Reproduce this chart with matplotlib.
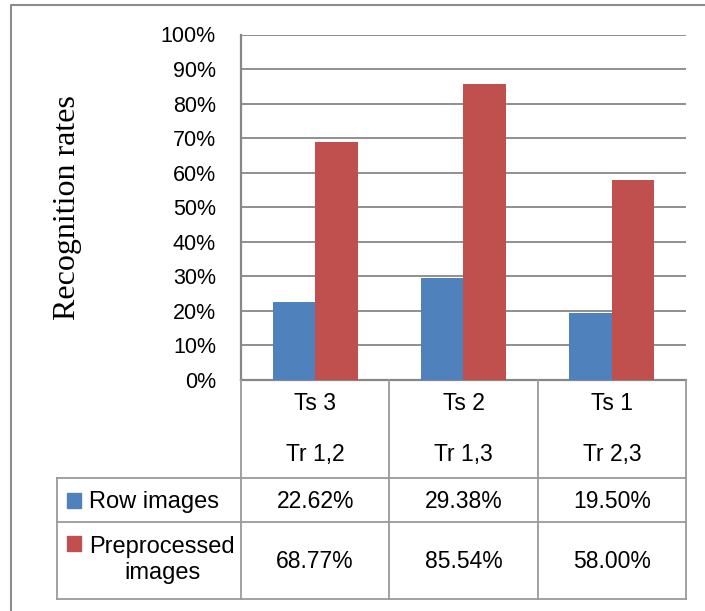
import matplotlib
import matplotlib.pyplot as plt
from matplotlib.lines import Line2D
from matplotlib.patches import Rectangle
import matplotlib.transforms as mtransforms

matplotlib.use('Agg')

# data
test_sets = ["Ts 3", "Ts 2", "Ts 1"]
train_sets = ["Tr 1,2", "Tr 1,3", "Tr 2,3"]
row_images = [22.62, 29.38, 19.50]
preprocessed = [68.77, 85.54, 58.00]
series_names = ["Row images", "Preprocessed\nimages"]
yticks = list(range(0, 101, 10))

blue = "#4F81BD"
red = "#C0504D"
grid_c = "#878787"
line_c = "#9A9A9A"
fs = 16.5

W, H = 705, 611
fig = plt.figure(figsize=(W / 100, H / 100), dpi=100)
plt.rcParams['font.family'] = ['Liberation Sans', 'DejaVu Sans']


def fx(x):
    return x / W


def fy(y):
    return 1 - y / H


ax = fig.add_axes([fx(241), fy(380), fx(686) - fx(241), fy(34.5) - fy(380)])
x = range(len(test_sets))
bw = 0.287
ax.bar([i - bw / 2 for i in x], row_images, bw, color=blue, zorder=3)
ax.bar([i + bw / 2 for i in x], preprocessed, bw, color=red, zorder=3)
ax.set_xlim(-0.5, len(test_sets) - 0.5)
ax.set_ylim(0, 100)
ax.set_yticks(yticks)
ax.set_yticklabels([f"{t}%" for t in yticks], fontsize=15.5)
ax.set_xticks([])
ax.tick_params(axis='y', length=0, pad=18)
ax.yaxis.grid(True, color=grid_c, lw=1.3, zorder=0)
for s in ['top', 'right']:
    ax.spines[s].set_visible(False)
for s in ['left', 'bottom']:
    ax.spines[s].set_color(grid_c)
    ax.spines[s].set_linewidth(1.6)
fig.text(fx(67), fy(207.5), "Recognition rates", family='Liberation Serif', fontsize=23,
         rotation=90, ha='center', va='center')

# data table under the chart
bt = mtransforms.blended_transform_factory(ax.transData, fig.transFigure)
bounds = [-0.5 + i for i in range(len(test_sets) + 1)]
for b in bounds:
    fig.add_artist(Line2D([b, b], [fy(380), fy(599)], transform=bt, color=line_c, lw=1.3))
for yy in [478, 522, 599]:
    fig.add_artist(Line2D([fx(57), fx(686)], [fy(yy), fy(yy)], transform=fig.transFigure,
                          color=line_c, lw=1.3))
fig.add_artist(Line2D([fx(57), fx(57)], [fy(478), fy(599)], transform=fig.transFigure,
                      color=line_c, lw=1.3))

for i in x:
    fig.text(i, fy(404), test_sets[i], transform=bt, ha='center', va='center', fontsize=fs)
    fig.text(i, fy(455), train_sets[i], transform=bt, ha='center', va='center', fontsize=fs)
    fig.text(i, fy(502), f"{row_images[i]:.2f}%", transform=bt, ha='center', va='center', fontsize=fs)
    fig.text(i, fy(561), f"{preprocessed[i]:.2f}%", transform=bt, ha='center', va='center', fontsize=fs)

# row headers with legend keys
fig.add_artist(Rectangle((fx(67), fy(508)), fx(14), 15 / H, transform=fig.transFigure,
                         color=blue))
fig.text(fx(89), fy(502), series_names[0], ha='left', va='center', fontsize=17)
fig.add_artist(Rectangle((fx(67), fy(551)), fx(14), 15 / H, transform=fig.transFigure,
                         color=red))
fig.text(fx(162), fy(560), series_names[1], ha='center', va='center', fontsize=17,
         linespacing=1.2)

# chart border
fig.add_artist(Line2D([fx(11), fx(11), 1], [0, fy(5), fy(5)], transform=fig.transFigure,
                      color="#8C8C8C", lw=1.5))

fig.savefig("out.png", dpi=100)
